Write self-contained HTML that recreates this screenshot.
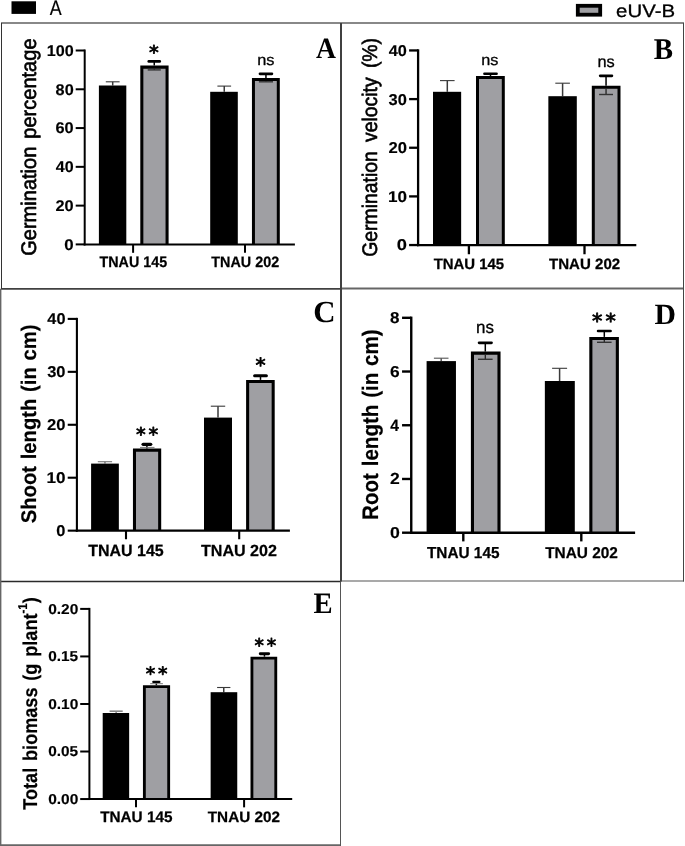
<!DOCTYPE html>
<html lang="en"><head><meta charset="utf-8"><title>Figure</title>
<style>
html,body{margin:0;padding:0;background:#fff;}
svg{display:block;}
</style></head>
<body>
<svg width="685" height="846" viewBox="0 0 685 846" text-rendering="geometricPrecision">
<rect x="0" y="0" width="685" height="846" fill="#fff"/>
<rect x="11.5" y="1.3" width="24.5" height="12.6" fill="#000"/>
<text transform="matrix(0.851 0 0 1 49.711 14.9)" font-family='"Liberation Sans", Arial, sans-serif' font-size="21.014" font-weight="normal" fill="#000" stroke="#000" stroke-width="0.2" stroke-linejoin="round">A</text>
<rect x="577.8" y="5.8" width="22.4" height="8.9" fill="#9f9fa3" stroke="#000" stroke-width="3.8"/>
<text transform="matrix(1.133 0 0 1 616.082 17.42)" font-family='"Liberation Sans", Arial, sans-serif' font-size="18" font-weight="normal" fill="#000" stroke="#000" stroke-width="0.3" stroke-linejoin="round">eUV-B</text>
<line x1="1" y1="23" x2="684" y2="23" stroke="#606060" stroke-width="1.4"/>
<line x1="1" y1="288.8" x2="341" y2="288.8" stroke="#404040" stroke-width="1.7"/>
<line x1="341" y1="288.5" x2="684" y2="288.5" stroke="#666" stroke-width="2.2"/>
<line x1="0" y1="581.5" x2="341" y2="581.5" stroke="#2a2a2a" stroke-width="1.7"/>
<line x1="341" y1="581" x2="684" y2="581" stroke="#555" stroke-width="1.2"/>
<line x1="0" y1="845.1" x2="341" y2="845.1" stroke="#666" stroke-width="1.8"/>
<line x1="1.5" y1="23" x2="1.5" y2="288.8" stroke="#333" stroke-width="1"/>
<line x1="0.7" y1="288.8" x2="0.7" y2="846" stroke="#666" stroke-width="1.4"/>
<line x1="341" y1="23" x2="341" y2="581.5" stroke="#404040" stroke-width="2"/>
<line x1="340.5" y1="581.5" x2="340.5" y2="846" stroke="#555" stroke-width="1"/>
<line x1="683.5" y1="23" x2="683.5" y2="581.5" stroke="#444" stroke-width="1"/>
<line x1="112.7" y1="81.8" x2="112.7" y2="85.5" stroke="#3a3a3a" stroke-width="1.5"/>
<line x1="105.8" y1="81.8" x2="119.6" y2="81.8" stroke="#3a3a3a" stroke-width="1.1"/>
<rect x="98.9" y="85.5" width="27.4" height="158.9" fill="#000"/>
<rect x="141.825" y="67.125" width="25.25" height="177.275" fill="#9f9fa3"/>
<path d="M141.825 244.4V67.125H167.075V244.4" fill="none" stroke="#000" stroke-width="3.05"/>
<line x1="154.25" y1="61.4" x2="154.25" y2="65.6" stroke="#000" stroke-width="1.5"/>
<line x1="148.78" y1="61.4" x2="159.72" y2="61.4" stroke="#000" stroke-width="2.7" stroke-linecap="round"/>
<line x1="154.25" y1="68.65" x2="154.25" y2="69.9" stroke="#222" stroke-width="1.3"/>
<line x1="147.7" y1="69.9" x2="160.8" y2="69.9" stroke="#333" stroke-width="1.4"/>
<line x1="224.25" y1="86.1" x2="224.25" y2="91.8" stroke="#3a3a3a" stroke-width="1.5"/>
<line x1="217.4" y1="86.1" x2="231.1" y2="86.1" stroke="#3a3a3a" stroke-width="1.1"/>
<rect x="210.2" y="91.8" width="27.6" height="152.6" fill="#000"/>
<rect x="253.45" y="79.5" width="24.85" height="164.9" fill="#9f9fa3"/>
<path d="M253.45 244.4V79.5H278.3V244.4" fill="none" stroke="#000" stroke-width="3.0"/>
<line x1="265.95" y1="73.8" x2="265.95" y2="78" stroke="#000" stroke-width="1.5"/>
<line x1="259.98" y1="73.8" x2="271.92" y2="73.8" stroke="#000" stroke-width="2.7" stroke-linecap="round"/>
<line x1="265.95" y1="81" x2="265.95" y2="81.8" stroke="#222" stroke-width="1.3"/>
<line x1="258.9" y1="81.8" x2="273" y2="81.8" stroke="#333" stroke-width="1.4"/>
<line x1="84.7" y1="49.5" x2="84.7" y2="245.4" stroke="#000" stroke-width="2.0"/>
<line x1="83.7" y1="244.4" x2="294.9" y2="244.4" stroke="#000" stroke-width="2.0"/>
<line x1="75.7" y1="244.4" x2="84.7" y2="244.4" stroke="#000" stroke-width="2.0"/>
<text transform="matrix(1.087 0 0 1 64.326 249.645)" font-family='"Liberation Sans", Arial, sans-serif' font-size="15.493" font-weight="bold" fill="#000" stroke="#000" stroke-width="0.15" stroke-linejoin="round">0</text>
<line x1="75.7" y1="205.62" x2="84.7" y2="205.62" stroke="#000" stroke-width="2.0"/>
<text transform="matrix(1.054 0 0 1 55.529 210.865)" font-family='"Liberation Sans", Arial, sans-serif' font-size="15.493" font-weight="bold" fill="#000" stroke="#000" stroke-width="0.15" stroke-linejoin="round">20</text>
<line x1="75.7" y1="166.84" x2="84.7" y2="166.84" stroke="#000" stroke-width="2.0"/>
<text transform="matrix(1.034 0 0 1 55.86 172.085)" font-family='"Liberation Sans", Arial, sans-serif' font-size="15.493" font-weight="bold" fill="#000" stroke="#000" stroke-width="0.15" stroke-linejoin="round">40</text>
<line x1="75.7" y1="128.06" x2="84.7" y2="128.06" stroke="#000" stroke-width="2.0"/>
<text transform="matrix(1.054 0 0 1 55.529 133.305)" font-family='"Liberation Sans", Arial, sans-serif' font-size="15.493" font-weight="bold" fill="#000" stroke="#000" stroke-width="0.15" stroke-linejoin="round">60</text>
<line x1="75.7" y1="89.28" x2="84.7" y2="89.28" stroke="#000" stroke-width="2.0"/>
<text transform="matrix(1.049 0 0 1 55.613 94.525)" font-family='"Liberation Sans", Arial, sans-serif' font-size="15.493" font-weight="bold" fill="#000" stroke="#000" stroke-width="0.15" stroke-linejoin="round">80</text>
<line x1="75.7" y1="50.5" x2="84.7" y2="50.5" stroke="#000" stroke-width="2.0"/>
<text transform="matrix(1.043 0 0 1 46.75 55.745)" font-family='"Liberation Sans", Arial, sans-serif' font-size="15.493" font-weight="bold" fill="#000" stroke="#000" stroke-width="0.15" stroke-linejoin="round">100</text>
<line x1="133.1" y1="244.4" x2="133.1" y2="252.8" stroke="#000" stroke-width="2.0"/>
<line x1="245" y1="244.4" x2="245" y2="252.8" stroke="#000" stroke-width="2.0"/>
<text transform="matrix(0.937 0 0 1 99.557 267.347)" font-family='"Liberation Sans", Arial, sans-serif' font-size="15.286" font-weight="bold" fill="#000" stroke="#000" stroke-width="0.25" stroke-linejoin="round">TNAU 145</text>
<text transform="matrix(0.954 0 0 1 211.256 267.349)" font-family='"Liberation Sans", Arial, sans-serif' font-size="15.07" font-weight="bold" fill="#000" stroke="#000" stroke-width="0.25" stroke-linejoin="round">TNAU 202</text>
<text transform="translate(35.653 255.803) rotate(-90) scale(0.947 1)" font-family='"Liberation Sans", Arial, sans-serif' font-size="21.176" font-weight="normal" fill="#000" stroke="#000" stroke-width="0.6" stroke-linejoin="round" word-spacing="2.541">Germination percentage</text>
<text transform="matrix(0.941 0 0 1 316.023 57.9)" font-family='"Liberation Serif", "Times New Roman", serif' font-size="29.394" font-weight="bold" fill="#000">A</text>
<text transform="matrix(1.033 0 0 1 149.014 58.896)" font-family='"DejaVu Sans", "Liberation Sans", sans-serif' font-size="18.913" font-weight="normal" fill="#000" stroke="#000" stroke-width="0.8" stroke-linejoin="round">*</text>
<text transform="matrix(1.07 0 0 1 257.138 64.947)" font-family='"Liberation Sans", Arial, sans-serif' font-size="15.273" font-weight="normal" fill="#000" stroke="#000" stroke-width="0.3" stroke-linejoin="round">ns</text>
<line x1="447.3" y1="80.6" x2="447.3" y2="91.8" stroke="#3a3a3a" stroke-width="1.5"/>
<line x1="440" y1="80.6" x2="454.6" y2="80.6" stroke="#3a3a3a" stroke-width="1.1"/>
<rect x="433" y="91.8" width="28.15" height="153.25" fill="#000"/>
<rect x="477.5" y="77.6" width="25.8" height="167.45" fill="#9f9fa3"/>
<path d="M477.5 245.05V77.6H503.3V245.05" fill="none" stroke="#000" stroke-width="3.0"/>
<line x1="490.5" y1="73.7" x2="490.5" y2="76.1" stroke="#000" stroke-width="1.5"/>
<line x1="484.4" y1="73.7" x2="496.6" y2="73.7" stroke="#000" stroke-width="2.5" stroke-linecap="round"/>
<line x1="562.6" y1="83.2" x2="562.6" y2="96.2" stroke="#3a3a3a" stroke-width="1.5"/>
<line x1="555.3" y1="83.2" x2="569.9" y2="83.2" stroke="#3a3a3a" stroke-width="1.1"/>
<rect x="548.35" y="96.2" width="28.45" height="148.85" fill="#000"/>
<rect x="593.3" y="87.2" width="25.7" height="157.85" fill="#9f9fa3"/>
<path d="M593.3 245.05V87.2H619V245.05" fill="none" stroke="#000" stroke-width="3.0"/>
<line x1="606.05" y1="75.8" x2="606.05" y2="85.7" stroke="#000" stroke-width="1.5"/>
<line x1="600.18" y1="75.8" x2="611.92" y2="75.8" stroke="#000" stroke-width="2.7" stroke-linecap="round"/>
<line x1="606.05" y1="88.7" x2="606.05" y2="94.5" stroke="#222" stroke-width="1.3"/>
<line x1="599.1" y1="94.5" x2="613" y2="94.5" stroke="#333" stroke-width="1.4"/>
<line x1="418.1" y1="49.3" x2="418.1" y2="246.2" stroke="#000" stroke-width="2.3"/>
<line x1="416.95" y1="245.05" x2="636.3" y2="245.05" stroke="#000" stroke-width="2.3"/>
<line x1="409.1" y1="245.05" x2="418.1" y2="245.05" stroke="#000" stroke-width="2.3"/>
<text transform="matrix(1.172 0 0 1 396.767 250.494)" font-family='"Liberation Sans", Arial, sans-serif' font-size="15.634" font-weight="bold" fill="#000" stroke="#000" stroke-width="0.15" stroke-linejoin="round">0</text>
<line x1="409.1" y1="196.4" x2="418.1" y2="196.4" stroke="#000" stroke-width="2.3"/>
<text transform="matrix(1.095 0 0 1 387.888 201.844)" font-family='"Liberation Sans", Arial, sans-serif' font-size="15.634" font-weight="bold" fill="#000" stroke="#000" stroke-width="0.15" stroke-linejoin="round">10</text>
<line x1="409.1" y1="147.75" x2="418.1" y2="147.75" stroke="#000" stroke-width="2.3"/>
<text transform="matrix(1.063 0 0 1 388.418 153.194)" font-family='"Liberation Sans", Arial, sans-serif' font-size="15.634" font-weight="bold" fill="#000" stroke="#000" stroke-width="0.15" stroke-linejoin="round">20</text>
<line x1="409.1" y1="99.1" x2="418.1" y2="99.1" stroke="#000" stroke-width="2.3"/>
<text transform="matrix(1.053 0 0 1 388.589 104.544)" font-family='"Liberation Sans", Arial, sans-serif' font-size="15.634" font-weight="bold" fill="#000" stroke="#000" stroke-width="0.15" stroke-linejoin="round">30</text>
<line x1="409.1" y1="50.45" x2="418.1" y2="50.45" stroke="#000" stroke-width="2.3"/>
<text transform="matrix(1.043 0 0 1 388.755 55.894)" font-family='"Liberation Sans", Arial, sans-serif' font-size="15.634" font-weight="bold" fill="#000" stroke="#000" stroke-width="0.15" stroke-linejoin="round">40</text>
<line x1="468.9" y1="245.05" x2="468.9" y2="254.25" stroke="#000" stroke-width="2.3"/>
<line x1="584.5" y1="245.05" x2="584.5" y2="254.25" stroke="#000" stroke-width="2.3"/>
<text transform="matrix(0.995 0 0 1 433.651 268.55)" font-family='"Liberation Sans", Arial, sans-serif' font-size="15" font-weight="bold" fill="#000" stroke="#000" stroke-width="0.25" stroke-linejoin="round">TNAU 145</text>
<text transform="matrix(1.01 0 0 1 548.949 268.651)" font-family='"Liberation Sans", Arial, sans-serif' font-size="14.93" font-weight="bold" fill="#000" stroke="#000" stroke-width="0.25" stroke-linejoin="round">TNAU 202</text>
<text transform="translate(376.975 256.77) rotate(-90) scale(0.92 1)" font-family='"Liberation Sans", Arial, sans-serif' font-size="21.07" font-weight="normal" fill="#000" stroke="#000" stroke-width="0.6" stroke-linejoin="round" word-spacing="4.214">Germination velocity (%)</text>
<text transform="matrix(0.965 0 0 1 653.666 58.65)" font-family='"Liberation Serif", "Times New Roman", serif' font-size="30" font-weight="bold" fill="#000">B</text>
<text transform="matrix(1.063 0 0 1 481.145 64.947)" font-family='"Liberation Sans", Arial, sans-serif' font-size="15.273" font-weight="normal" fill="#000" stroke="#000" stroke-width="0.3" stroke-linejoin="round">ns</text>
<text transform="matrix(1.021 0 0 1 597.538 67.04)" font-family='"Liberation Sans", Arial, sans-serif' font-size="16" font-weight="normal" fill="#000" stroke="#000" stroke-width="0.3" stroke-linejoin="round">ns</text>
<line x1="104.95" y1="461.7" x2="104.95" y2="463.6" stroke="#777" stroke-width="1.5"/>
<line x1="97.8" y1="461.7" x2="112.1" y2="461.7" stroke="#777" stroke-width="1.1"/>
<rect x="91.1" y="463.6" width="27.75" height="67.05" fill="#000"/>
<rect x="134.475" y="450.125" width="25.2" height="80.525" fill="#9f9fa3"/>
<path d="M134.475 530.65V450.125H159.675V530.65" fill="none" stroke="#000" stroke-width="3.05"/>
<line x1="146.9" y1="444.35" x2="146.9" y2="448.6" stroke="#000" stroke-width="1.5"/>
<line x1="143.12" y1="444.35" x2="150.68" y2="444.35" stroke="#000" stroke-width="3.3" stroke-linecap="round"/>
<line x1="140" y1="447.4" x2="154.5" y2="447.4" stroke="#777" stroke-width="1"/>
<line x1="218" y1="406.2" x2="218" y2="417.6" stroke="#3a3a3a" stroke-width="1.5"/>
<line x1="210.8" y1="406.2" x2="225.2" y2="406.2" stroke="#3a3a3a" stroke-width="1.1"/>
<rect x="204" y="417.6" width="28" height="113.05" fill="#000"/>
<rect x="247.625" y="381.425" width="25.55" height="149.225" fill="#9f9fa3"/>
<path d="M247.625 530.65V381.425H273.175V530.65" fill="none" stroke="#000" stroke-width="3.05"/>
<line x1="260.5" y1="375.75" x2="260.5" y2="379.9" stroke="#000" stroke-width="1.5"/>
<line x1="254.6" y1="375.75" x2="266.4" y2="375.75" stroke="#000" stroke-width="3.0" stroke-linecap="round"/>
<line x1="76.9" y1="317.85" x2="76.9" y2="531.7" stroke="#000" stroke-width="2.1"/>
<line x1="75.85" y1="530.65" x2="289.9" y2="530.65" stroke="#000" stroke-width="2.1"/>
<line x1="67.7" y1="530.65" x2="76.9" y2="530.65" stroke="#000" stroke-width="2.1"/>
<text transform="matrix(1.05 0 0 1 56.343 535.894)" font-family='"Liberation Sans", Arial, sans-serif' font-size="15.634" font-weight="bold" fill="#000" stroke="#000" stroke-width="0.15" stroke-linejoin="round">0</text>
<line x1="67.7" y1="477.712" x2="76.9" y2="477.712" stroke="#000" stroke-width="2.1"/>
<text transform="matrix(1.095 0 0 1 46.488 482.956)" font-family='"Liberation Sans", Arial, sans-serif' font-size="15.634" font-weight="bold" fill="#000" stroke="#000" stroke-width="0.15" stroke-linejoin="round">10</text>
<line x1="67.7" y1="424.775" x2="76.9" y2="424.775" stroke="#000" stroke-width="2.1"/>
<text transform="matrix(1.063 0 0 1 47.018 430.019)" font-family='"Liberation Sans", Arial, sans-serif' font-size="15.634" font-weight="bold" fill="#000" stroke="#000" stroke-width="0.15" stroke-linejoin="round">20</text>
<line x1="67.7" y1="371.837" x2="76.9" y2="371.837" stroke="#000" stroke-width="2.1"/>
<text transform="matrix(1.053 0 0 1 47.189 377.081)" font-family='"Liberation Sans", Arial, sans-serif' font-size="15.634" font-weight="bold" fill="#000" stroke="#000" stroke-width="0.15" stroke-linejoin="round">30</text>
<line x1="67.7" y1="318.9" x2="76.9" y2="318.9" stroke="#000" stroke-width="2.1"/>
<text transform="matrix(1.043 0 0 1 47.355 324.144)" font-family='"Liberation Sans", Arial, sans-serif' font-size="15.634" font-weight="bold" fill="#000" stroke="#000" stroke-width="0.15" stroke-linejoin="round">40</text>
<line x1="126" y1="530.65" x2="126" y2="539.25" stroke="#000" stroke-width="2.1"/>
<line x1="239.2" y1="530.65" x2="239.2" y2="539.25" stroke="#000" stroke-width="2.1"/>
<text transform="matrix(0.983 0 0 1 88.14 556.237)" font-family='"Liberation Sans", Arial, sans-serif' font-size="16.286" font-weight="bold" fill="#000" stroke="#000" stroke-width="0.25" stroke-linejoin="round">TNAU 145</text>
<text transform="matrix(1.003 0 0 1 200.939 556.239)" font-family='"Liberation Sans", Arial, sans-serif' font-size="16.056" font-weight="bold" fill="#000" stroke="#000" stroke-width="0.25" stroke-linejoin="round">TNAU 202</text>
<text transform="translate(35.853 523.308) rotate(-90) scale(0.957 1)" font-family='"Liberation Sans", Arial, sans-serif' font-size="21.176" font-weight="bold" fill="#000" stroke="#000" stroke-width="0.2" stroke-linejoin="round" word-spacing="1.059">Shoot length (in cm)</text>
<text transform="matrix(1.011 0 0 1 313.254 321.894)" font-family='"Liberation Serif", "Times New Roman", serif' font-size="30.597" font-weight="bold" fill="#000">C</text>
<text transform="matrix(1.027 0 0 1 136.117 440.996)" font-family='"DejaVu Sans", "Liberation Sans", sans-serif' font-size="18.913" font-weight="normal" fill="#000" letter-spacing="2.661" stroke="#000" stroke-width="0.8" stroke-linejoin="round">**</text>
<text transform="matrix(1.022 0 0 1 255.493 372.239)" font-family='"DejaVu Sans", "Liberation Sans", sans-serif' font-size="19.783" font-weight="normal" fill="#000" stroke="#000" stroke-width="0.8" stroke-linejoin="round">*</text>
<line x1="441.2" y1="358.2" x2="441.2" y2="361.1" stroke="#555" stroke-width="1.5"/>
<line x1="433.9" y1="358.2" x2="448.5" y2="358.2" stroke="#555" stroke-width="1.1"/>
<rect x="426.6" y="361.1" width="29.35" height="171.6" fill="#000"/>
<rect x="472.45" y="353.15" width="26.55" height="179.55" fill="#9f9fa3"/>
<path d="M472.45 532.7V353.15H499V532.7" fill="none" stroke="#000" stroke-width="3.1"/>
<line x1="485.3" y1="342.8" x2="485.3" y2="351.6" stroke="#000" stroke-width="1.5"/>
<line x1="479.12" y1="342.8" x2="491.48" y2="342.8" stroke="#000" stroke-width="2.8" stroke-linecap="round"/>
<line x1="485.3" y1="354.7" x2="485.3" y2="359.3" stroke="#222" stroke-width="1.3"/>
<line x1="478" y1="359.3" x2="492.6" y2="359.3" stroke="#333" stroke-width="1.4"/>
<line x1="559.6" y1="368.3" x2="559.6" y2="381" stroke="#3a3a3a" stroke-width="1.5"/>
<line x1="552.1" y1="368.3" x2="567.1" y2="368.3" stroke="#3a3a3a" stroke-width="1.1"/>
<rect x="544.85" y="381" width="29.95" height="151.7" fill="#000"/>
<rect x="590.85" y="338.45" width="26.5" height="194.25" fill="#9f9fa3"/>
<path d="M590.85 532.7V338.45H617.35V532.7" fill="none" stroke="#000" stroke-width="3.1"/>
<line x1="604.3" y1="331" x2="604.3" y2="336.9" stroke="#000" stroke-width="1.5"/>
<line x1="598.04" y1="331" x2="610.56" y2="331" stroke="#000" stroke-width="2.6" stroke-linecap="round"/>
<line x1="604.3" y1="340" x2="604.3" y2="342.3" stroke="#222" stroke-width="1.3"/>
<line x1="597" y1="342.3" x2="611.6" y2="342.3" stroke="#333" stroke-width="1.4"/>
<line x1="411.25" y1="316.6" x2="411.25" y2="533.9" stroke="#000" stroke-width="2.4"/>
<line x1="410.05" y1="532.7" x2="635.1" y2="532.7" stroke="#000" stroke-width="2.4"/>
<line x1="402.05" y1="532.7" x2="411.25" y2="532.7" stroke="#000" stroke-width="2.4"/>
<text transform="matrix(1.121 0 0 1 389.893 537.942)" font-family='"Liberation Sans", Arial, sans-serif' font-size="15.775" font-weight="bold" fill="#000" stroke="#000" stroke-width="0.15" stroke-linejoin="round">0</text>
<line x1="402.05" y1="478.975" x2="411.25" y2="478.975" stroke="#000" stroke-width="2.4"/>
<text transform="matrix(1.094 0 0 1 389.988 484.375)" font-family='"Liberation Sans", Arial, sans-serif' font-size="16" font-weight="bold" fill="#000" stroke="#000" stroke-width="0.15" stroke-linejoin="round">2</text>
<line x1="402.05" y1="425.25" x2="411.25" y2="425.25" stroke="#000" stroke-width="2.4"/>
<text transform="matrix(0.967 0 0 1 390.364 430.65)" font-family='"Liberation Sans", Arial, sans-serif' font-size="16.232" font-weight="bold" fill="#000" stroke="#000" stroke-width="0.15" stroke-linejoin="round">4</text>
<line x1="402.05" y1="371.525" x2="411.25" y2="371.525" stroke="#000" stroke-width="2.4"/>
<text transform="matrix(1.098 0 0 1 389.994 376.767)" font-family='"Liberation Sans", Arial, sans-serif' font-size="15.775" font-weight="bold" fill="#000" stroke="#000" stroke-width="0.15" stroke-linejoin="round">6</text>
<line x1="402.05" y1="317.8" x2="411.25" y2="317.8" stroke="#000" stroke-width="2.4"/>
<text transform="matrix(1.076 0 0 1 390.091 323.042)" font-family='"Liberation Sans", Arial, sans-serif' font-size="15.775" font-weight="bold" fill="#000" stroke="#000" stroke-width="0.15" stroke-linejoin="round">8</text>
<line x1="463.3" y1="532.7" x2="463.3" y2="541.4" stroke="#000" stroke-width="2.4"/>
<line x1="581.3" y1="532.7" x2="581.3" y2="541.4" stroke="#000" stroke-width="2.4"/>
<text transform="matrix(0.969 0 0 1 426.946 558.041)" font-family='"Liberation Sans", Arial, sans-serif' font-size="15.857" font-weight="bold" fill="#000" stroke="#000" stroke-width="0.25" stroke-linejoin="round">TNAU 145</text>
<text transform="matrix(0.986 0 0 1 545.146 558.044)" font-family='"Liberation Sans", Arial, sans-serif' font-size="15.634" font-weight="bold" fill="#000" stroke="#000" stroke-width="0.25" stroke-linejoin="round">TNAU 202</text>
<text transform="translate(377.883 519.938) rotate(-90) scale(0.917 1)" font-family='"Liberation Sans", Arial, sans-serif' font-size="22.46" font-weight="bold" fill="#000" stroke="#000" stroke-width="0.2" stroke-linejoin="round" word-spacing="1.123">Root length (in cm)</text>
<text transform="matrix(1.016 0 0 1 654.405 324)" font-family='"Liberation Serif", "Times New Roman", serif' font-size="29.313" font-weight="bold" fill="#000">D</text>
<text transform="matrix(0.982 0 0 1 476.097 333.027)" font-family='"Liberation Sans", Arial, sans-serif' font-size="17.273" font-weight="normal" fill="#000" stroke="#000" stroke-width="0.3" stroke-linejoin="round">ns</text>
<text transform="matrix(1.012 0 0 1 592.08 327.922)" font-family='"DejaVu Sans", "Liberation Sans", sans-serif' font-size="20.435" font-weight="normal" fill="#000" letter-spacing="3.121" stroke="#000" stroke-width="0.8" stroke-linejoin="round">**</text>
<line x1="116.15" y1="711.2" x2="116.15" y2="713" stroke="#888" stroke-width="1.5"/>
<line x1="109.6" y1="711.2" x2="122.7" y2="711.2" stroke="#888" stroke-width="1.6"/>
<rect x="102.7" y="713" width="26.45" height="86.05" fill="#000"/>
<rect x="144.375" y="686.625" width="24.3" height="112.425" fill="#9f9fa3"/>
<path d="M144.375 799.05V686.625H168.675V799.05" fill="none" stroke="#000" stroke-width="2.85"/>
<line x1="156.35" y1="681.9" x2="156.35" y2="685.2" stroke="#000" stroke-width="1.5"/>
<line x1="153.28" y1="681.9" x2="159.42" y2="681.9" stroke="#000" stroke-width="2.2" stroke-linecap="round"/>
<line x1="150.2" y1="683.7" x2="162.9" y2="683.7" stroke="#777" stroke-width="1"/>
<line x1="223.75" y1="687.5" x2="223.75" y2="692.2" stroke="#3a3a3a" stroke-width="1.5"/>
<line x1="217.1" y1="687.5" x2="230.4" y2="687.5" stroke="#3a3a3a" stroke-width="1.1"/>
<rect x="210.65" y="692.2" width="26.6" height="106.85" fill="#000"/>
<rect x="251.925" y="658.125" width="23.85" height="140.925" fill="#9f9fa3"/>
<path d="M251.925 799.05V658.125H275.775V799.05" fill="none" stroke="#000" stroke-width="2.85"/>
<line x1="264.45" y1="653.75" x2="264.45" y2="656.7" stroke="#000" stroke-width="1.5"/>
<line x1="260.26" y1="653.75" x2="268.64" y2="653.75" stroke="#000" stroke-width="2.9" stroke-linecap="round"/>
<line x1="89.4" y1="607.9" x2="89.4" y2="800.05" stroke="#000" stroke-width="2.0"/>
<line x1="88.4" y1="799.05" x2="292.2" y2="799.05" stroke="#000" stroke-width="2.0"/>
<line x1="80.2" y1="799.05" x2="89.4" y2="799.05" stroke="#000" stroke-width="2.0"/>
<text transform="matrix(1.079 0 0 1 48.18 804.006)" font-family='"Liberation Sans", Arial, sans-serif' font-size="14.366" font-weight="bold" fill="#000" stroke="#000" stroke-width="0.15" stroke-linejoin="round">0.00</text>
<line x1="80.2" y1="751.512" x2="89.4" y2="751.512" stroke="#000" stroke-width="2.0"/>
<text transform="matrix(1.07 0 0 1 48.185 756.469)" font-family='"Liberation Sans", Arial, sans-serif' font-size="14.366" font-weight="bold" fill="#000" stroke="#000" stroke-width="0.15" stroke-linejoin="round">0.05</text>
<line x1="80.2" y1="703.975" x2="89.4" y2="703.975" stroke="#000" stroke-width="2.0"/>
<text transform="matrix(1.079 0 0 1 48.18 708.931)" font-family='"Liberation Sans", Arial, sans-serif' font-size="14.366" font-weight="bold" fill="#000" stroke="#000" stroke-width="0.15" stroke-linejoin="round">0.10</text>
<line x1="80.2" y1="656.438" x2="89.4" y2="656.438" stroke="#000" stroke-width="2.0"/>
<text transform="matrix(1.07 0 0 1 48.185 661.394)" font-family='"Liberation Sans", Arial, sans-serif' font-size="14.366" font-weight="bold" fill="#000" stroke="#000" stroke-width="0.15" stroke-linejoin="round">0.15</text>
<line x1="80.2" y1="608.9" x2="89.4" y2="608.9" stroke="#000" stroke-width="2.0"/>
<text transform="matrix(1.079 0 0 1 48.18 613.856)" font-family='"Liberation Sans", Arial, sans-serif' font-size="14.366" font-weight="bold" fill="#000" stroke="#000" stroke-width="0.15" stroke-linejoin="round">0.20</text>
<line x1="136" y1="799.05" x2="136" y2="807.35" stroke="#000" stroke-width="2.0"/>
<line x1="244.1" y1="799.05" x2="244.1" y2="807.35" stroke="#000" stroke-width="2.0"/>
<text transform="matrix(1.003 0 0 1 100.147 822.347)" font-family='"Liberation Sans", Arial, sans-serif' font-size="15.286" font-weight="bold" fill="#000" stroke="#000" stroke-width="0.25" stroke-linejoin="round">TNAU 145</text>
<text transform="matrix(1.015 0 0 1 207.747 822.349)" font-family='"Liberation Sans", Arial, sans-serif' font-size="15.07" font-weight="bold" fill="#000" stroke="#000" stroke-width="0.25" stroke-linejoin="round">TNAU 202</text>
<text transform="translate(37.2 809.681) rotate(-90) scale(0.905 1)" font-family='"Liberation Sans", Arial, sans-serif' font-size="20" font-weight="bold" fill="#000" stroke="#000" stroke-width="0.2" stroke-linejoin="round" word-spacing="2">Total biomass (g plant<tspan dy="-0.78em" font-size="64%">-1</tspan><tspan dy="0.5em">)</tspan></text>
<text transform="matrix(0.968 0 0 1 313.57 613.4)" font-family='"Liberation Serif", "Times New Roman", serif' font-size="29.618" font-weight="bold" fill="#000">E</text>
<text transform="matrix(1.039 0 0 1 145.731 679.713)" font-family='"DejaVu Sans", "Liberation Sans", sans-serif' font-size="18.261" font-weight="normal" fill="#000" letter-spacing="2.657" stroke="#000" stroke-width="0.8" stroke-linejoin="round">**</text>
<text transform="matrix(0.997 0 0 1 254.434 651.696)" font-family='"DejaVu Sans", "Liberation Sans", sans-serif' font-size="18.913" font-weight="normal" fill="#000" letter-spacing="2.775" stroke="#000" stroke-width="0.8" stroke-linejoin="round">**</text>
</svg>
</body></html>
